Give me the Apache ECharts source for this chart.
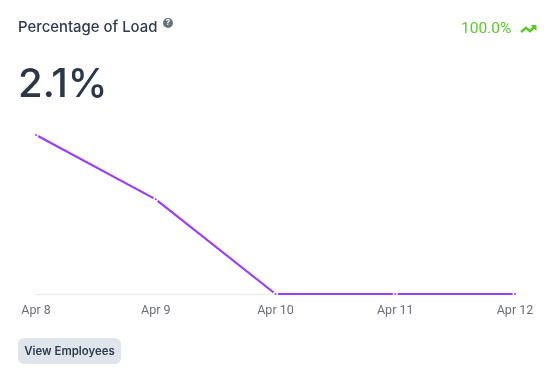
<!DOCTYPE html>
<html><head><meta charset="utf-8">
<style>html,body{margin:0;padding:0;background:#fff}#c{width:554px;height:379px}</style>
<script src="https://cdn.jsdelivr.net/npm/echarts@6/dist/echarts.min.js"></script>
</head><body><div id="c"></div>
<script>
const categories = ['Apr 8','Apr 9','Apr 10','Apr 11','Apr 12'];
const values = [2.1, 1.25, 0, 0, 0];
const titleText = 'Percentage of Load';
const bigValue = '2.1%';
const changeText = '100.0%';
const buttonText = 'View Employees';

const chart = echarts.init(document.getElementById('c'), null, {renderer:'canvas'});
chart.setOption({
  animation:false,
  backgroundColor:'#fff',
  grid:{left:36,right:39,top:135,bottom:85,containLabel:false},
  xAxis:{type:'category',data:categories,boundaryGap:false,
    axisLine:{show:true,lineStyle:{color:'#e6e8ec',width:1}},axisTick:{show:false},
    axisLabel:{color:'#6b6f76',fontFamily:'Roboto',fontSize:12.5,margin:10,hideOverlap:false,interval:0}},
  yAxis:{type:'value',min:0,max:2.1,show:false,splitLine:{show:false}},
  series:[{type:'line',data:values,smooth:false,clip:false,
    lineStyle:{color:'#9a3cfa',width:2.2},
    symbol:'circle',symbolSize:3.5,showSymbol:true,
    itemStyle:{color:'#9a3cfa',borderColor:'#fff',borderWidth:1.5}}],
  graphic:[
    {type:'text',left:18,top:20,style:{text:titleText,fill:'#2f3b50',font:'500 14.9px Inter'}},
    {type:'circle',shape:{cx:168,cy:23,r:5},style:{fill:'#68727f'}},
    {type:'text',x:168,y:23,style:{text:'?',fill:'#fff',font:'700 8px Inter',align:'center',verticalAlign:'middle'}},
    {type:'text',left:18,top:65,style:{text:bigValue,fill:'#2b3648',font:'500 40px Inter'}},
    {type:'text',left:461,top:21,style:{text:changeText,fill:'#5cc82a',font:'400 15.5px Roboto'}},
    {type:'polyline',shape:{points:[[521,32],[526,28],[530,31],[535,26.5]]},style:{stroke:'#5cc82a',lineWidth:2.6,fill:null}},
    {type:'polygon',shape:{points:[[530.5,25],[536.5,25],[536.5,31]]},style:{fill:'#5cc82a'}},
    {type:'rect',shape:{x:18,y:338,width:103,height:26,r:6},style:{fill:'#e0e4eb'}},
    {type:'text',x:69.5,y:352,style:{text:buttonText,fill:'#2f3b50',font:'600 11.4px Inter',align:'center',verticalAlign:'middle'}}
  ]
});
</script></body></html>
